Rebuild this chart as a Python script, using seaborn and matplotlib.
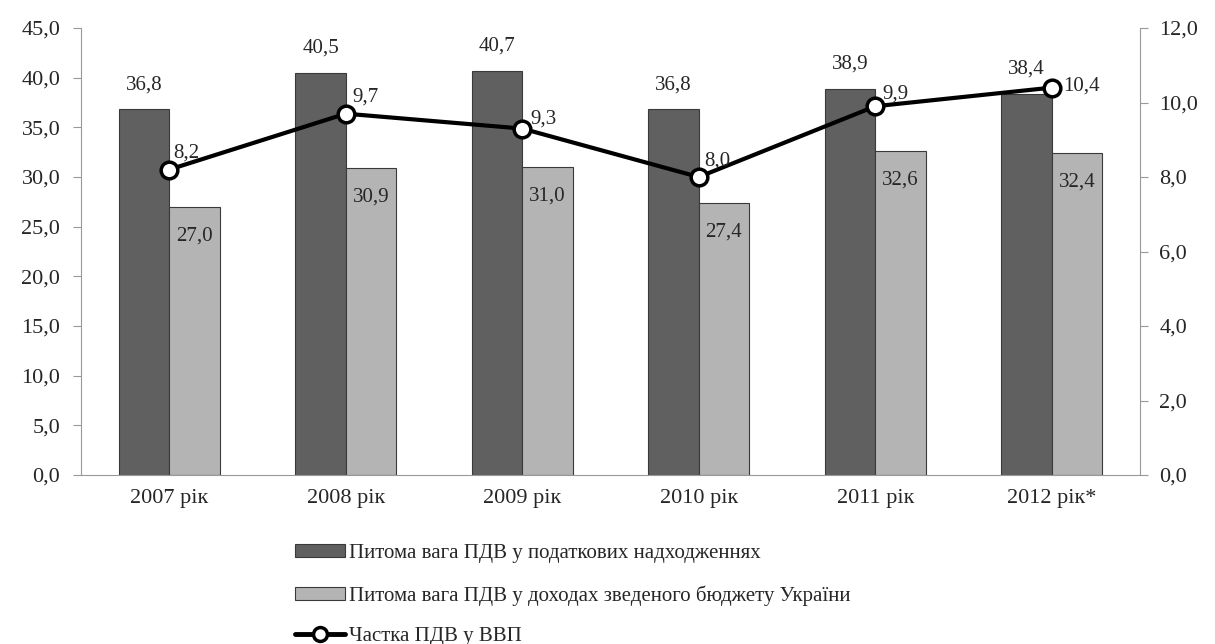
import seaborn as sns
import pandas as pd
import matplotlib.pyplot as plt
from matplotlib.lines import Line2D
from matplotlib.patches import Patch

years = ["2007 рік", "2008 рік", "2009 рік", "2010 рік", "2011 рік", "2012 рік*"]
tax_share = [36.8, 40.5, 40.7, 36.8, 38.9, 38.4]
budget_share = [27.0, 30.9, 31.0, 27.4, 32.6, 32.4]
gdp_share = [8.2, 9.7, 9.3, 8.0, 9.9, 10.4]

lbl_tax = "Питома вага ПДВ у податкових надходженнях"
lbl_budget = "Питома вага ПДВ у доходах зведеного бюджету України"
lbl_gdp = "Частка ПДВ у ВВП"

df = pd.DataFrame({
    "year": years * 2,
    "value": tax_share + budget_share,
    "series": [lbl_tax] * len(years) + [lbl_budget] * len(years),
})
df_gdp = pd.DataFrame({"year": years, "value": gdp_share})

sns.set_style("white")
plt.rcParams["font.family"] = ["Liberation Serif", "DejaVu Serif"]


def fmt(v):
    return f"{v:.1f}".replace(".", ",")


fig = plt.figure(figsize=(12.15, 6.44), dpi=100)
ax = fig.add_axes([0.0667, 0.2624, 0.8716, 0.6941])

dark = "#606060"
light = "#b4b4b4"
sns.barplot(data=df, x="year", y="value", hue="series", palette=[dark, light],
            width=0.57, edgecolor="#3a3a3a", linewidth=0.8, legend=False, ax=ax)

ax.set_ylim(0, 45)
ax.set_yticks(range(0, 46, 5))
ax.set_yticklabels([fmt(v) for v in range(0, 46, 5)], fontsize=16)
ax.set_xlabel("")
ax.set_ylabel("")
ax.tick_params(axis="x", labelsize=16, length=0, pad=10)
ax.tick_params(axis="y", direction="out", length=6, color="#999999", left=True, pad=9)
for s in ["top", "right"]:
    ax.spines[s].set_visible(False)
for s in ["left", "bottom"]:
    ax.spines[s].set_color("#999999")

# bar labels
for i, v in enumerate(tax_share):
    ax.annotate(fmt(v), (i - 0.1425, v), xytext=(0, 11),
                textcoords="offset points", ha="center", va="bottom", fontsize=15)
for i, v in enumerate(budget_share):
    ax.annotate(fmt(v), (i + 0.1425, v), xytext=(0, -14),
                textcoords="offset points", ha="center", va="top", fontsize=15)

ax2 = ax.twinx()
sns.pointplot(data=df_gdp, x="year", y="value", color="black", ax=ax2,
              linewidth=3, markersize=12, markerfacecolor="white",
              markeredgecolor="black", markeredgewidth=2.5)
ax2.set_ylim(0, 12)
ax2.set_yticks(range(0, 13, 2))
ax2.set_yticklabels([fmt(v) for v in range(0, 13, 2)], fontsize=16)
ax2.set_ylabel("")
ax2.tick_params(axis="y", direction="out", length=6, color="#999999", right=True, pad=8)
for s in ["top", "left", "bottom"]:
    ax2.spines[s].set_visible(False)
ax2.spines["right"].set_color("#999999")
ax.set_xlim(-0.5, len(years) - 0.5)

offsets = [(3, 5), (5, 5), (6, 0), (4, 5), (5, 2), (8, -6)]
for i, v in enumerate(gdp_share):
    ax2.annotate(fmt(v), (i, v), xytext=offsets[i],
                 textcoords="offset points", ha="left", va="bottom", fontsize=15)

handles = [
    Patch(facecolor=dark, edgecolor="#3a3a3a", linewidth=0.8),
    Patch(facecolor=light, edgecolor="#3a3a3a", linewidth=0.8),
    Line2D([0], [0], color="black", linewidth=3.5, marker="o", markersize=10,
           markerfacecolor="white", markeredgewidth=2.5),
]
fig.legend(handles, [lbl_tax, lbl_budget, lbl_gdp], loc="upper left",
           bbox_to_anchor=(0.236, 0.168), frameon=False, fontsize=15,
           handlelength=2.4, handleheight=0.6, handletextpad=0.2,
           labelspacing=1.05, borderaxespad=0)

fig.savefig("out.png", dpi=100)
